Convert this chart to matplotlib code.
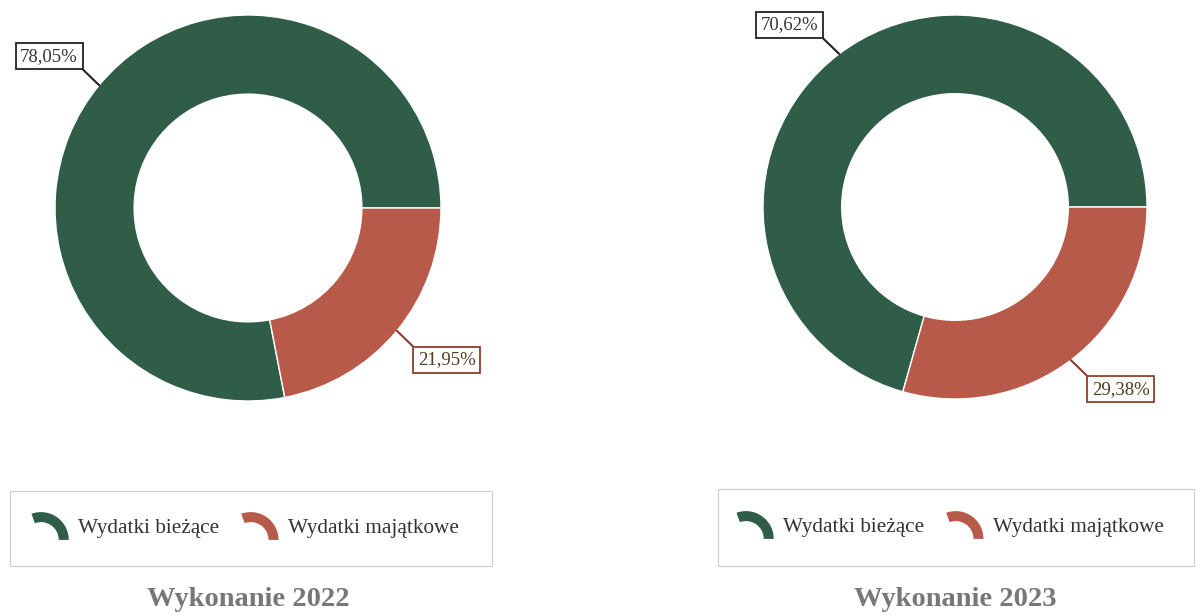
import matplotlib.pyplot as plt
from matplotlib.patches import Wedge, Rectangle
from matplotlib.legend_handler import HandlerPatch
import numpy as np

categories = ['Wydatki bieżące', 'Wydatki majątkowe']
titles = ['Wykonanie 2022', 'Wykonanie 2023']
shares_2022 = [78.05, 21.95]
shares_2023 = [70.62, 29.38]

colors = ['#2f5d47', '#b85a49']
label_edges = ['#222222', '#8e3f2c']
label_text = ['#333333', '#4d3b1c']

plt.rcParams['font.family'] = ['Liberation Serif', 'DejaVu Serif']

W, H = 1196, 615
fig = plt.figure(figsize=(W / 100, H / 100), dpi=100)


class ArcHandler(HandlerPatch):
    # quarter-ring swatch instead of the usual square
    def create_artists(self, legend, orig_handle, xdescent, ydescent,
                       width, height, fontsize, trans):
        r = 20.0
        cx = -xdescent + 0.34 * r
        cy = -ydescent + height / 2 - r / 2
        w = Wedge((cx, cy), r, 0, 110, width=r * 0.36,
                  facecolor=orig_handle.get_facecolor(), edgecolor='none',
                  transform=trans)
        return [w]


def donut(cx, cy, radius, values, title, legend_box):
    ax = fig.add_axes([(cx - radius) / W, (H - cy - radius) / H,
                       2 * radius / W, 2 * radius / H])
    wedges, _ = ax.pie(values, colors=colors, startangle=0, counterclock=True,
                       radius=1.0,
                       wedgeprops=dict(width=0.41, edgecolor='white', linewidth=1))
    ax.set_xlim(-1, 1)
    ax.set_ylim(-1, 1)
    ax.set_aspect('auto')

    for i, wd in enumerate(wedges):
        mid = np.deg2rad((wd.theta1 + wd.theta2) / 2)
        x, y = np.cos(mid), np.sin(mid)
        dx = 50 * np.sign(x)
        dy = 29 * np.sign(y)
        relpos = (1, 0) if x < 0 else (0, 1)
        ax.annotate(f'{values[i]:.2f}%'.replace('.', ','), xy=(x, y),
                    xytext=(dx, dy), textcoords='offset pixels',
                    ha='center', va='center', fontsize=13.5, color=label_text[i],
                    bbox=dict(boxstyle='square,pad=0.25', facecolor='white',
                              edgecolor=label_edges[i], linewidth=1.3),
                    arrowprops=dict(arrowstyle='-', color=label_edges[i], lw=1.5,
                                    relpos=relpos, shrinkA=0, shrinkB=0),
                    annotation_clip=False)

    # legend frame drawn separately so the entries stay compact inside it
    lx0, ly0, lx1, ly1 = legend_box
    fig.patches.append(Rectangle((lx0 / W, 1 - ly1 / H), (lx1 - lx0) / W, (ly1 - ly0) / H,
                                 transform=fig.transFigure, facecolor='none',
                                 edgecolor='#cfcfcf', linewidth=0.8))
    fig.legend(wedges, categories, loc='center',
               bbox_to_anchor=((lx0 + lx1) / 2 / W - 6 / W, 1 - (ly0 + ly1) / 2 / H),
               ncol=2, fontsize=15.3, frameon=False, labelcolor='#333333',
               handlelength=1.78, handleheight=0.7, handletextpad=0.4,
               columnspacing=1.05, handler_map={Wedge: ArcHandler()})

    fig.text(cx / W, 1 - 599 / H, title, ha='center', va='center',
             fontsize=20.5, fontweight='bold', color='#777777')


donut(248, 208, 193, shares_2022, titles[0], (10, 491, 492, 566))
donut(955, 207, 192, shares_2023, titles[1], (718, 489, 1194, 566))

fig.savefig('out.png', dpi=100, facecolor='white')
